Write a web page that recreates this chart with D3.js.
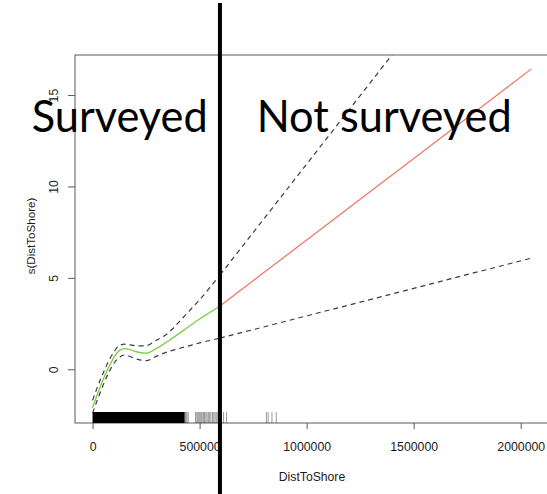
<!DOCTYPE html>
<html>
<head>
<meta charset="utf-8">
<script src="https://cdn.jsdelivr.net/npm/d3@7"></script>
<style>
  html, body { margin: 0; padding: 0; background: #fff; }
  svg { display: block; }
</style>
</head>
<body>
<script>
// ---------- data ----------
const distSurveyed = [0, 25000, 50000, 75000, 100000, 125000, 150000, 175000, 200000, 225000, 250000, 300000, 350000, 400000, 450000, 500000, 550000, 595000];
const fitSurveyed   = [-2.1, -1.3, -0.55, 0.1, 0.65, 1.02, 1.13, 1.07, 0.97, 0.9, 0.88, 1.15, 1.52, 1.92, 2.34, 2.75, 3.12, 3.46];
const upperSurveyed = [-1.7, -0.9, -0.2, 0.45, 0.95, 1.3, 1.37, 1.33, 1.29, 1.28, 1.29, 1.6, 1.95, 2.54, 3.17, 3.8, 4.5, 5.15];
const lowerSurveyed = [-2.4, -1.6, -0.85, -0.2, 0.33, 0.65, 0.78, 0.7, 0.58, 0.5, 0.47, 0.72, 0.95, 1.12, 1.28, 1.44, 1.58, 1.7];

const distExtrap  = [595000, 2050000];
const fitExtrap   = [3.46, 16.43];
const upperExtrap = [5.15, 26.96];
const lowerExtrap = [1.7, 6.08];

const rugDenseRange = [0, 430000];
const rugSparse = [432000, 436000, 441000, 447000, 481000, 487000, 492000, 497000, 502000, 507000, 512000, 518000, 523000, 529000, 535000, 541000, 547000, 553000, 560000, 566000, 572000, 578000, 585000, 592000, 600000, 612000, 626000, 812000, 820000, 838000, 858000];

const surveyBoundary = 595000;

const xTicks = [0, 500000, 1000000, 1500000, 2000000];
const yTicks = [0, 5, 10, 15];
const xDomain = [-82000, 2132000];
const yDomain = [-2.94, 17.19];

const xLabel = "DistToShore";
const yLabel = "s(DistToShore)";
const leftNote = "Surveyed";
const rightNote = "Not surveyed";

// ---------- drawing ----------
const W = 547, H = 494;
const plot = { left: 75, right: 549, top: 55, bottom: 423 };

const svg = d3.select("body").append("svg").attr("width", W).attr("height", H);

const x = d3.scaleLinear().domain(xDomain).range([plot.left, plot.right]);
const y = d3.scaleLinear().domain(yDomain).range([plot.bottom, plot.top]);

svg.append("clipPath").attr("id", "plotclip")
  .append("rect")
  .attr("x", plot.left).attr("y", plot.top)
  .attr("width", plot.right - plot.left).attr("height", plot.bottom - plot.top);

const axisColor = "#5a5a5a";
const textColor = "#1a1a1a";
const font = "'Liberation Sans', Arial, Helvetica, sans-serif";

// x axis
const gx = svg.append("g")
  .attr("transform", `translate(0,${plot.bottom})`)
  .call(d3.axisBottom(x).tickValues(xTicks).tickSize(6).tickFormat(d3.format("d")));
gx.select(".domain").remove();
gx.selectAll("line").attr("stroke", axisColor);
gx.selectAll("text")
  .attr("fill", textColor).attr("font-family", font).attr("font-size", 12.3)
  .attr("y", 28).attr("dy", 0);

// y axis
const gy = svg.append("g")
  .attr("transform", `translate(${plot.left},0)`)
  .call(d3.axisLeft(y).tickValues(yTicks).tickSize(7));
gy.select(".domain").remove();
gy.selectAll("line").attr("stroke", axisColor);
gy.selectAll("text")
  .attr("fill", textColor).attr("font-family", font).attr("font-size", 12.3)
  .attr("transform", "rotate(-90)")
  .attr("x", 0).attr("y", -16.7).attr("dy", 0)
  .attr("text-anchor", "middle");

// box
svg.append("rect")
  .attr("x", plot.left).attr("y", plot.top)
  .attr("width", plot.right - plot.left).attr("height", plot.bottom - plot.top)
  .attr("fill", "none").attr("stroke", axisColor).attr("stroke-width", 1);

// axis titles
svg.append("text")
  .attr("x", (plot.left + plot.right) / 2).attr("y", 481)
  .attr("text-anchor", "middle").attr("font-family", font).attr("font-size", 12.2)
  .attr("fill", textColor).text(xLabel);
svg.append("text")
  .attr("transform", `translate(34.5,${(plot.top + plot.bottom) / 2 - 3}) rotate(-90)`)
  .attr("text-anchor", "middle").attr("font-family", font).attr("font-size", 11.6)
  .attr("fill", textColor).text(yLabel);

const pg = svg.append("g").attr("clip-path", "url(#plotclip)");

// rug
const rugH = 11;
pg.append("rect")
  .attr("x", x(rugDenseRange[0])).attr("y", plot.bottom - rugH)
  .attr("width", x(rugDenseRange[1]) - x(rugDenseRange[0])).attr("height", rugH)
  .attr("fill", "#000");
pg.selectAll("line.rug").data(rugSparse).join("line")
  .attr("class", "rug")
  .attr("x1", d => x(d)).attr("x2", d => x(d))
  .attr("y1", plot.bottom).attr("y2", plot.bottom - rugH)
  .attr("stroke", "#000").attr("stroke-opacity", 0.4).attr("stroke-width", 1);

const line = d3.line().x(d => x(d[0])).y(d => y(d[1])).curve(d3.curveMonotoneX);
const zip = (a, b) => a.map((v, i) => [v, b[i]]);

const dashStyle = "5,4";
const dashColor = "#3c3c3c";

// confidence bands
[upperSurveyed, lowerSurveyed].forEach(arr => {
  pg.append("path").attr("d", line(zip(distSurveyed, arr)))
    .attr("fill", "none").attr("stroke", dashColor).attr("stroke-width", 1.2)
    .attr("stroke-dasharray", dashStyle);
});
[upperExtrap, lowerExtrap].forEach(arr => {
  pg.append("path").attr("d", line(zip(distExtrap, arr)))
    .attr("fill", "none").attr("stroke", dashColor).attr("stroke-width", 1.2)
    .attr("stroke-dasharray", dashStyle);
});

// fits
pg.append("path").attr("d", line(zip(distSurveyed, fitSurveyed)))
  .attr("fill", "none").attr("stroke", "#86cc4a").attr("stroke-width", 1.4);
pg.append("path").attr("d", line(zip(distExtrap, fitExtrap)))
  .attr("fill", "none").attr("stroke", "#f2705f").attr("stroke-width", 1.2);

// annotation overlay
const noteFont = "Lato, 'Open Sans', 'Noto Sans', sans-serif";
svg.append("text")
  .attr("x", 31.7).attr("y", 132)
  .attr("font-family", noteFont).attr("font-size", 45).attr("fill", "#000")
  .attr("textLength", 176).attr("lengthAdjust", "spacingAndGlyphs")
  .text(leftNote);
svg.append("text")
  .attr("x", 256.7).attr("y", 132)
  .attr("font-family", noteFont).attr("font-size", 45).attr("fill", "#000")
  .attr("textLength", 255).attr("lengthAdjust", "spacingAndGlyphs")
  .text(rightNote);

// survey boundary line
svg.append("line")
  .attr("x1", x(surveyBoundary)).attr("x2", x(surveyBoundary))
  .attr("y1", 3).attr("y2", H)
  .attr("stroke", "#000").attr("stroke-width", 4);
</script>
</body>
</html>
